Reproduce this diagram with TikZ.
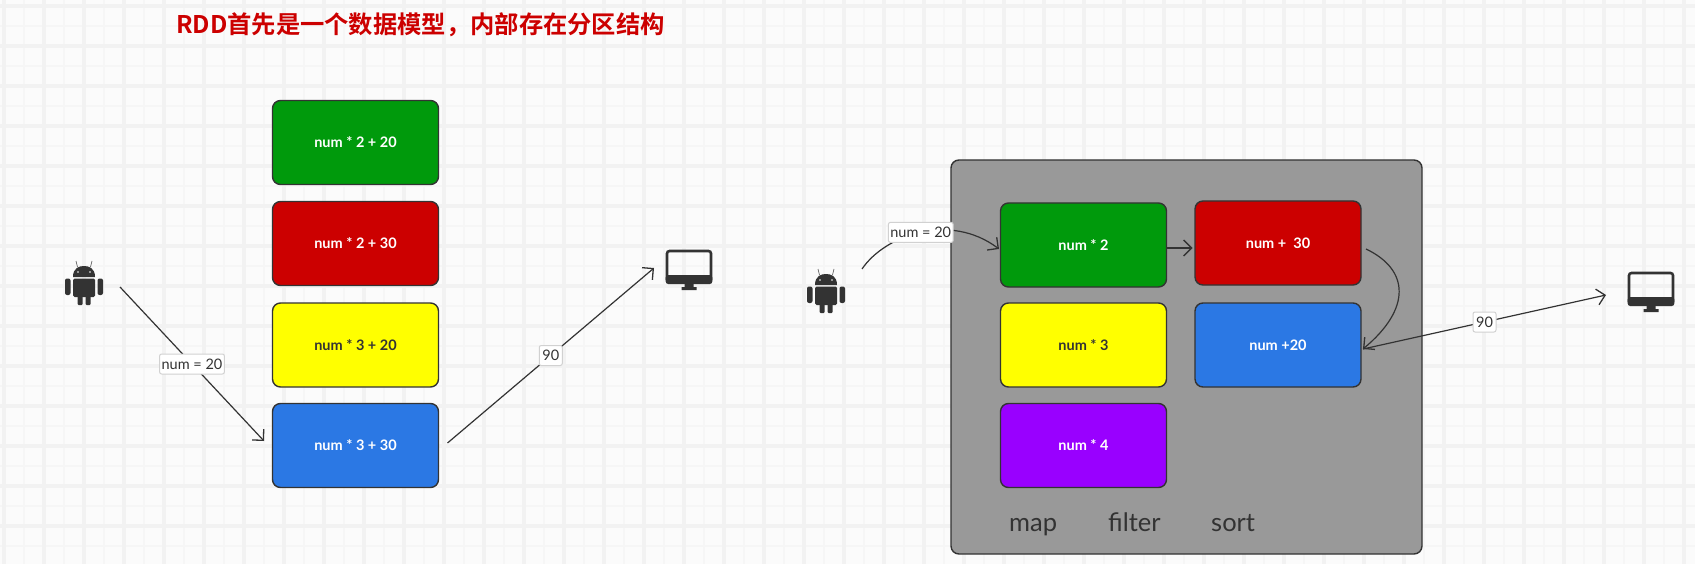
\documentclass[tikz,border=0pt]{standalone}
\usepackage{fontspec}
\setmainfont{Lato}
\newfontfamily\cjkbold[BoldFont={Noto Sans CJK SC Bold}]{Noto Sans CJK SC Bold}
\usetikzlibrary{arrows.meta}
\definecolor{pagebg}{HTML}{FBFBFB}
\definecolor{gridmajor}{HTML}{F2F2F2}
\definecolor{gridminor}{HTML}{F6F6F6}
\definecolor{ink}{HTML}{333333}
\definecolor{cgreen}{HTML}{009A0C}
\definecolor{cred}{HTML}{CC0000}
\definecolor{cyellow}{HTML}{FFFF00}
\definecolor{cblue}{HTML}{2B78E4}
\definecolor{cpurple}{HTML}{9900FF}
\definecolor{cframe}{HTML}{999999}
\tikzset{
  x=1pt,y=-1pt,
  partbox/.style={draw=ink,line width=1.4pt,rounded corners=8pt,minimum width=166pt,minimum height=84pt,inner sep=0pt,font=\fontsize{14.5}{16}\selectfont\bfseries},
  frame/.style={draw=ink,line width=1.4pt,fill=cframe,rounded corners=8pt,minimum width=471pt,minimum height=394pt,inner sep=0pt},
  conn/.style={draw=ink,line width=1.2pt,-{Straight Barb[length=8pt,width=16pt,line width=1.3pt]}},
  tag/.style={draw=black!18,line width=1pt,fill=white,rounded corners=2pt,text=ink,font=\fontsize{14.5}{16}\selectfont,inner xsep=2pt,inner ysep=0pt,minimum height=20pt,minimum width=23pt},
  stagelabel/.style={text=ink,font=\fontsize{25.5}{28}\selectfont,inner sep=0pt,anchor=base west},
  pics/android/.style={code={
    \fill[ink] (-11,-5) .. controls (-11,-14) and (-5,-16) .. (0,-16) .. controls (5,-16) and (11,-14) .. (11,-5) -- cycle;
    \draw[ink!80,line width=.7pt] (-6.5,-15) -- (-8,-21) (6.5,-15) -- (8,-21);
    \fill[ink,rounded corners=1.5pt] (-11,-3.5) rectangle (11,15);
    \fill[ink,rounded corners=2pt] (-19,-3.5) rectangle (-13.5,13);
    \fill[ink,rounded corners=2pt] (13.5,-3.5) rectangle (19,13);
    \fill[ink,rounded corners=1pt] (-6.5,13) rectangle (-1.5,23);
    \fill[ink,rounded corners=1pt] (1.5,13) rectangle (6.5,23);
    \fill[pagebg] (-6,-10) circle (.8) (6,-10) circle (.8);
  }},
  pics/monitor/.style={code={
    \draw[ink,line width=2.6pt,rounded corners=2.5pt] (-22,-18) rectangle (22,13);
    \fill[ink,rounded corners=2.5pt] (-23.3,6) rectangle (23.3,15);
    \fill[ink] (-4.5,14) -- (4.5,14) -- (4.5,18) -- (7.5,18) -- (7.5,21) -- (-7.5,21) -- (-7.5,18) -- (-4.5,18) -- cycle;
  }}
}
\begin{document}
\begin{tikzpicture}
\useasboundingbox (0,0) rectangle (1695,564);
\fill[pagebg] (0,0) rectangle (1695,564);
% background grid
\foreach \gx in {24,64,...,1695} \draw[gridminor,line width=1.6pt] (\gx,0) -- (\gx,564);
\foreach \gy in {26,66,...,564} \draw[gridminor,line width=1.6pt] (0,\gy) -- (1695,\gy);
\foreach \gx in {4,44,...,1695} \draw[gridmajor,line width=3.2pt] (\gx,0) -- (\gx,564);
\foreach \gy in {6,46,...,564} \draw[gridmajor,line width=3.2pt] (0,\gy) -- (1695,\gy);

% title
\node[text=cred,font={\cjkbold\fontsize{24.3}{28}\selectfont},inner sep=0pt,anchor=base west] (title) at (176,34) {RDD首先是一个数据模型，内部存在分区结构};

% left column
\node[partbox,fill=cgreen,text=white] (lgreen) at (355.5,142.5) {num * 2 + 20};
\node[partbox,fill=cred,text=white] (lred) at (355.5,243.5) {num * 2 + 30};
\node[partbox,fill=cyellow,text=ink] (lyellow) at (355.5,345) {num * 3 + 20};
\node[partbox,fill=cblue,text=white] (lblue) at (355.5,445.5) {num * 3 + 30};

% icons left
\pic at (84,282) {android};
\pic at (689,269) {monitor};
\coordinate (lsrc) at (120,287);
\coordinate (ldst) at (264,441);
\coordinate (lout) at (447.5,443);
\coordinate (lmon) at (654,268);

\draw[conn] (lsrc) -- node[tag,pos=.5] (ltag) {num = 20} (ldst);
\draw[conn] (lout) -- node[tag,pos=.5] (ltagb) {90} (lmon);

% right frame
\node[frame] (frame) at (1186.5,357) {};
\node[partbox,fill=cgreen,text=white] (rgreen) at (1083.5,245) {num * 2};
\node[partbox,fill=cred,text=white] (rred) at (1278,243) {num +\ \ 30};
\node[partbox,fill=cyellow,text=ink] (ryellow) at (1083.5,345) {num * 3};
\node[partbox,fill=cblue,text=white] (rblue) at (1278,345) {num +20};
\node[partbox,fill=cpurple,text=white] (rpurple) at (1083.5,445.5) {num * 4};
\node[stagelabel] (smap) at (1009,531) {map};
\node[stagelabel] (sfilter) at (1108,531) {filter};
\node[stagelabel] (ssort) at (1211,531) {sort};

% icons right
\pic at (826,290) {android};
\pic at (1651,291) {monitor};
\coordinate (rsrc) at (862,269);
\coordinate (rgin) at (999,249);
\coordinate (gout) at (1166.5,248);
\coordinate (rin) at (1192.5,248);
\coordinate (rout) at (1366,249);
\coordinate (bin) at (1363,349);
\coordinate (rmon) at (1606,295);

\draw[conn] (rsrc) .. controls (885,235) and (950,212) .. node[tag,pos=.5] (rtag) {num = 20} (rgin);
\draw[conn] (gout) -- (rin);
\draw[conn] (rout) .. controls (1410,270) and (1411,309) .. (bin);
\draw[conn] (bin) -- node[tag,pos=.5] (rtagb) {90} (rmon);
\end{tikzpicture}
\end{document}
